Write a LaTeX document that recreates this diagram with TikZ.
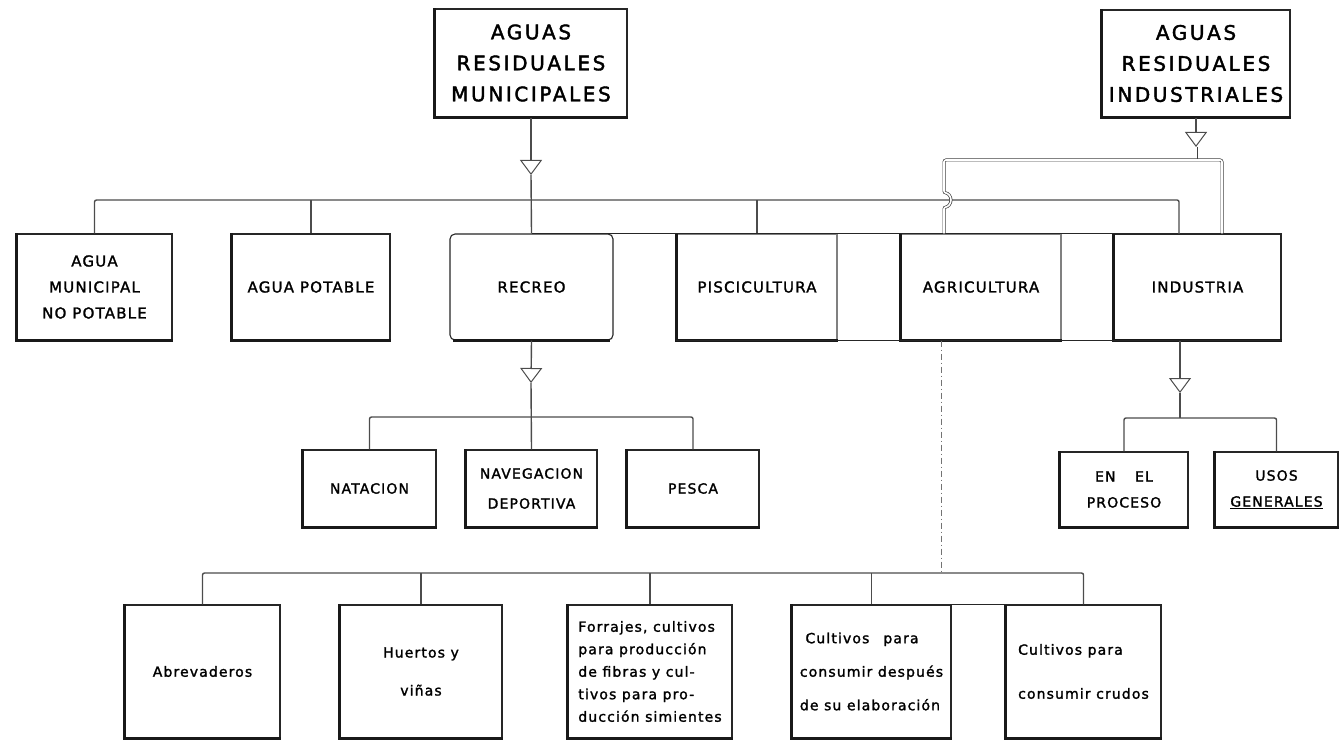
\documentclass[tikz,border=0pt]{standalone}
\usepackage{fontspec}
\usetikzlibrary{arrows.meta,calc}
\newfontfamily\lettering[LetterSpace=8, FakeBold=1.6]{DejaVu Sans}
\newfontfamily\headlettering[LetterSpace=13, FakeBold=2]{DejaVu Sans}
\begin{document}
\begin{tikzpicture}[x=1pt,y=-1pt,
  frame/.style={draw=black!85, line width=1.1pt, inner sep=0pt, align=center, fill=white},
  topbox/.style={frame, font=\headlettering\fontsize{20}{31}\selectfont},
  midbox/.style={frame, minimum height=106pt, font=\lettering\fontsize{15}{26}\selectfont},
  subbox/.style={frame, minimum height=77pt, font=\lettering\fontsize{14}{30}\selectfont},
  lowbox/.style={frame, minimum height=133pt, font=\lettering\fontsize{14}{22.5}\selectfont},
  edge shade/.style={draw=black!90, line width=2.6pt},
  wire/.style={draw=black!70, line width=1.4pt, rounded corners=2pt},
  thinwire/.style={draw=black!55, line width=0.8pt, dash pattern=on 6pt off 3pt on 1pt off 3pt},
  dbl/.style={draw=black!75, line width=0.7pt, double=white, double distance=1.6pt, rounded corners=2pt},
  tipped/.style={wire, -{Triangle[open, length=15pt, width=22pt, line width=1pt]}},
  rowline/.style={draw=black!85, line width=1.1pt}
]
\useasboundingbox (0,0) rectangle (1341,743);

% sources
\node[topbox, minimum width=192pt, minimum height=108pt] (mun) at (531,63)
  {AGUAS\\RESIDUALES\\MUNICIPALES};
\node[topbox, minimum width=188pt, minimum height=107pt] (ind) at (1196,63.5)
  {AGUAS\\RESIDUALES\\INDUSTRIALES};

% uses
\node[midbox, minimum width=155pt] (amnp) at (94.5,287) {AGUA\\MUNICIPAL\\NO POTABLE};
\node[midbox, minimum width=158pt] (apot) at (311,287) {AGUA POTABLE};
\node[midbox, minimum width=163pt, rounded corners=5pt] (recreo) at (531.5,287) {RECREO};
\node[midbox, minimum width=160pt, draw=black!50] (pisc) at (757,287) {PISCICULTURA};
\node[midbox, minimum width=160pt, draw=black!50] (agri) at (981,287) {AGRICULTURA};
\node[midbox, minimum width=167pt] (indu) at (1197.5,287) {INDUSTRIA};

% recreation
\node[subbox, minimum width=133pt] (nat) at (369.5,488.5) {NATACION};
\node[subbox, minimum width=131pt] (nav) at (531.5,488.5) {NAVEGACION\\DEPORTIVA};
\node[subbox, minimum width=132pt] (pesca) at (693,488.5) {PESCA};

% industry
\node[subbox, minimum width=128pt, minimum height=75pt, font=\lettering\fontsize{14}{26}\selectfont] (proc) at (1124,489.5) {EN\quad\ EL\\PROCESO};
\node[subbox, minimum width=123pt, minimum height=75pt, font=\lettering\fontsize{14}{26}\selectfont] (usos) at (1276.5,489.5) {USOS\\\underline{GENERALES}};

% agriculture
\node[lowbox, minimum width=155pt] (abre) at (202.5,671.5) {Abrevaderos};
\node[lowbox, minimum width=162pt, font=\lettering\fontsize{14}{38}\selectfont] (huer) at (421,671.5) {Huertos y\\viñas};
\node[lowbox, minimum width=164pt, align=left] (forr) at (650,671.5)
  {Forrajes, cultivos\\para producción\\de fibras y cul-\\tivos para pro-\\ducción simientes};
\node[lowbox, minimum width=159pt, align=left, font=\lettering\fontsize{14}{33.5}\selectfont] (cdesp) at (871.5,671.5)
  {\ Cultivos\quad para\\consumir después\\de su elaboración};
\node[lowbox, minimum width=155pt, align=left, font=\lettering\fontsize{14}{44}\selectfont] (ccrud) at (1083.5,671.5)
  {Cultivos para\\consumir crudos};

% heavy left and bottom edges of the boxes
\foreach \n in {mun,ind,amnp,apot,pisc,agri,indu,nat,nav,pesca,proc,usos,abre,huer,forr,cdesp,ccrud}
  \draw[edge shade] (\n.north west) -- (\n.south west) -- (\n.south east);
\draw[edge shade] ([xshift=4pt]recreo.south west) -- ([xshift=-4pt]recreo.south east);

% shared top and bottom rules of the use row
\draw[rowline] (recreo.north) -- (indu.north east);
\draw[rowline] (pisc.south west) -- (indu.south east);
\draw[rowline] (cdesp.north) -- (ccrud.north east);

% municipal distribution
\coordinate (mtip) at (531,175);
\coordinate (mbus) at (531,200);
\coordinate (indin) at (1179,234);
\draw[tipped] (mun.south) -- (mtip);
\draw[wire] (mtip) -- (recreo.north);
\draw[wire] (amnp.north) |- (mbus);
\draw[wire] (apot.north) -- (apot.north |- mbus);
\draw[wire] (mbus) -| (indin);
\draw[wire] (pisc.north) -- (pisc.north |- mbus);

% industrial distribution
\coordinate (itip) at (1196,147);
\coordinate (ibus) at (1196,160);
\coordinate (ileft) at (944,160);
\coordinate (iright) at (1222,160);
\draw[tipped] (ind.south) -- (itip);
\draw[dbl] (itip) -- (ibus);
\draw[dbl] (ileft |- agri.north) -- ($(ileft |- mbus)+(0,7)$)
  arc[start angle=90, end angle=-90, radius=7] -- (ileft) -- (iright) -- (iright |- indu.north);

% recreation branches
\coordinate (rtip) at (531,383);
\coordinate (rbus) at (531,417);
\draw[tipped] (recreo.south) -- (rtip);
\draw[wire] (rtip) -- (nav.north);
\draw[wire] (nat.north) |- (rbus) -| (pesca.north);

% industry branches
\coordinate (ktip) at (1180,393);
\coordinate (kbus) at (1180,418);
\draw[tipped] (ktip |- indu.south) -- (ktip);
\draw[wire] (ktip) -- (kbus);
\draw[wire] (proc.north) |- (kbus) -| (usos.north);

% agriculture branches
\coordinate (abus) at (941,573);
\draw[thinwire] (abus |- agri.south) -- (abus);
\draw[wire] (abre.north) |- (abus) -| (ccrud.north);
\draw[wire] (huer.north) -- (huer.north |- abus);
\draw[wire] (forr.north) -- (forr.north |- abus);
\draw[wire] (cdesp.north) -- (cdesp.north |- abus);
\end{tikzpicture}
\end{document}
